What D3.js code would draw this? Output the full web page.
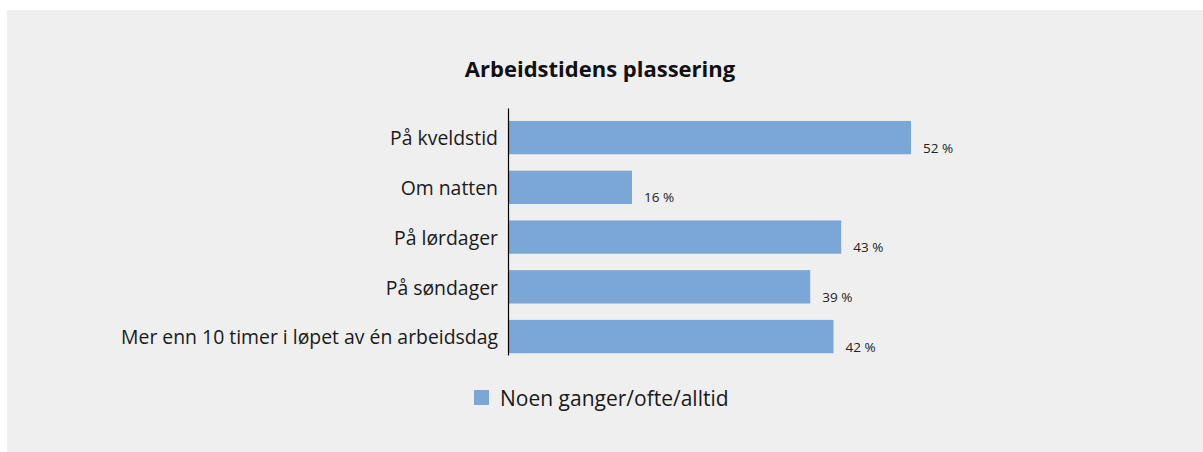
<!DOCTYPE html>
<html>
<head>
<meta charset="utf-8">
<script src="https://cdn.jsdelivr.net/npm/d3@7"></script>
<style>
  body { margin: 0; background: #ffffff; }
  svg { display: block; font-family: 'Open Sans', sans-serif; }
</style>
</head>
<body>
<div id="chart"></div>
<script>
// Chart data
var categories = ['På kveldstid', 'Om natten', 'På lørdager', 'På søndager', 'Mer enn 10 timer i løpet av én arbeidsdag'];
var values = [52, 16, 43, 39, 42];
var seriesName = 'Noen ganger/ofte/alltid';
var title = 'Arbeidstidens plassering';

var width = 1203,
height = 452,
barColor = '#7ba7d6';

var svg = d3.select('#chart').
append('svg').
attr('width', width).
attr('height', height);

// grey panel
svg.append('rect').
attr('x', 7).
attr('y', 10).
attr('width', width - 7).
attr('height', height - 10).
attr('fill', '#efefef');

// title
svg.append('text').
attr('x', 600).
attr('y', 77).
attr('text-anchor', 'middle').
style('font-size', '22px').
style('font-weight', 'bold').
style('fill', '#111').
text(title);

// scales
var xScale = d3.scaleLinear().
domain([0, 60]).
range([508, 973]);

var yScale = d3.scaleBand().
domain(categories).
range([108, 355]).
paddingInner(0.33).
paddingOuter(0.1475).
align(0.88);

// bars
svg.selectAll('rect.bar').
data(values).
enter().
append('rect').
attr('class', 'bar').
attr('x', xScale(0)).
attr('y', function (d, i) { return yScale(categories[i]); }).
attr('width', function (d) { return xScale(d) - xScale(0); }).
attr('height', yScale.bandwidth()).
attr('fill', barColor);

// value labels
svg.selectAll('text.value').
data(values).
enter().
append('text').
attr('class', 'value').
attr('x', function (d) { return xScale(d) + 12; }).
attr('y', function (d, i) { return yScale(categories[i]) + yScale.bandwidth() - 1.5; }).
style('font-size', '13.5px').
style('fill', '#222').
text(function (d) { return d + ' %'; });

// y axis with category labels
var yAxis = d3.axisLeft(yScale).
tickSize(0).
tickPadding(10);

var yAxisGroup = svg.append('g').
attr('transform', 'translate(' + xScale(0) + ',0)').
call(yAxis);

yAxisGroup.select('.domain').
attr('stroke', '#000').
attr('stroke-width', 1.2);

yAxisGroup.selectAll('text').
attr('dy', '0.4em').
style('font-size', '19.4px').
style('font-family', "'Open Sans', sans-serif").
style('fill', '#1a1a1a');

// legend
svg.append('rect').
attr('x', 474).
attr('y', 390).
attr('width', 15).
attr('height', 15).
attr('fill', barColor);

svg.append('text').
attr('x', 500).
attr('y', 406).
style('font-size', '21px').
style('fill', '#1a1a1a').
text(seriesName);
</script>
</body>
</html>
